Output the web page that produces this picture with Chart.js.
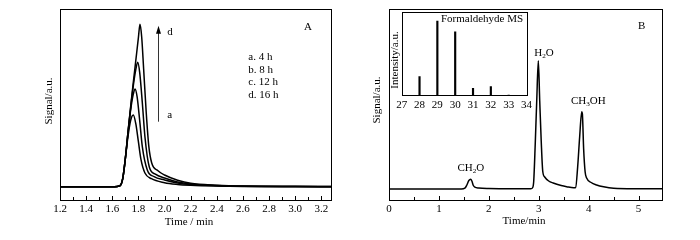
<!DOCTYPE html>
<html>
<head>
<meta charset="utf-8">
<script src="https://cdn.jsdelivr.net/npm/chart.js@4.4.1/dist/chart.umd.min.js"></script>
<style>
  html, body { margin: 0; padding: 0; background: #fff; }
  #wrap { position: relative; width: 700px; height: 240px; overflow: hidden; }
  .box { position: absolute; }
  canvas { display: block; }
</style>
</head>
<body>
<div id="wrap">
  <div class="box" style="left:0;top:0;width:350px;height:240px"><canvas id="cA" width="350" height="240"></canvas></div>
  <div class="box" style="left:350px;top:0;width:350px;height:240px"><canvas id="cB" width="350" height="240"></canvas></div>
  <div class="box" style="left:385px;top:0;width:150px;height:115px"><canvas id="cI" width="150" height="115"></canvas></div>
</div>
<script>
// ---------------- DATA ----------------
// Panel A: signal vs time (min) for 4 h, 8 h, 12 h, 16 h
const timeA_a = [1.20,1.40,1.60,1.64,1.66,1.68,1.70,1.72,1.74,1.761,1.78,1.80,1.82,1.85,1.90,2.00,2.10,2.20,2.40,2.60,3.00,3.28];
const sigA_a  = [0,0,0,0.3,1,8,28,50,66,71.7,63,45,27,13.7,8,4,2.3,1.5,0.7,0.3,0.1,0.05];
const timeA_b = [1.20,1.40,1.60,1.64,1.66,1.68,1.70,1.72,1.74,1.76,1.774,1.79,1.81,1.83,1.868,1.92,2.00,2.10,2.20,2.40,2.60,3.00,3.28];
const sigA_b  = [0,0,0,0.3,1,8,28,53,76,92,97.7,90,66,40,16.7,10,6.7,3.8,2.2,1.0,0.4,0.1,0.05];
const timeA_c = [1.20,1.40,1.60,1.64,1.66,1.68,1.70,1.72,1.74,1.76,1.78,1.795,1.81,1.83,1.85,1.883,1.93,2.00,2.10,2.20,2.40,2.60,3.00,3.28];
const sigA_c  = [0,0,0,0.3,1,8,28,54,78,100,117,124.4,114,84,50,20,12.5,8.7,4.8,2.8,1.2,0.5,0.15,0.1];
const timeA_d = [1.20,1.40,1.60,1.64,1.66,1.68,1.70,1.72,1.74,1.76,1.78,1.80,1.812,1.825,1.84,1.86,1.88,1.902,1.95,2.00,2.10,2.20,2.40,2.60,3.00,3.28];
const sigA_d  = [0,0,0,0.3,1,8,28,54,79,103,126,149,162.4,150,118,74,40,23.7,16,11.7,6.5,3.4,1.5,0.6,0.2,0.1];
const seriesA_labels = ["a. 4 h", "b. 8 h", "c. 12 h", "d. 16 h"];
const ticksA_major = [1.2,1.4,1.6,1.8,2.0,2.2,2.4,2.6,2.8,3.0,3.2];
const ticksA_minor = [1.3,1.5,1.7,1.9,2.1,2.3,2.5,2.7,2.9,3.1];

// Panel B: chromatogram
const timeB = [0,0.6,1.0,1.45,1.52,1.56,1.60,1.637,1.66,1.69,1.72,1.80,2.0,2.5,2.84,2.88,2.90,2.93,2.96,2.992,3.02,3.05,3.08,3.12,3.20,3.29,3.45,3.56,3.70,3.74,3.78,3.82,3.862,3.875,3.90,3.93,3.96,4.05,4.16,4.30,4.50,5.0,5.47];
const sigB  = [0,0,0,0,0.8,4,8.5,9.7,8,3.5,1.8,0.9,0.4,0.2,0.2,1.5,8,45,88,128.3,88,48,18,12,8,6,3.5,2.3,1.2,1.5,22,52,77.3,75,40,17,11,6.5,4,2.2,0.8,0.3,0.2];
const ticksB_major = [0,1,2,3,4,5];
const ticksB_minor = [0.5,1.5,2.5,3.5,4.5];

// Inset: Formaldehyde MS
const msMass = [28,29,30,31,32,33];
const msIntensity = [22.8,89.6,76.7,8.9,10.8,0.8];
const ticksI = [27,28,29,30,31,32,33,34];

// ---------------- HELPERS ----------------
const FONT = '"Liberation Serif", "Times New Roman", serif';
Chart.defaults.font.family = FONT;
Chart.defaults.color = '#000';
Chart.defaults.animation = false;

function pts(xs, ys) { return xs.map((x, i) => ({x: x, y: ys[i]})); }

// draw text with subscripts: parts = [[text, isSub], ...], centered at x
function drawParts(ctx, parts, x, y, size) {
  let w = 0;
  parts.forEach(p => { ctx.font = (p[1] ? size * 0.65 : size) + 'px ' + FONT; w += ctx.measureText(p[0]).width; });
  let cx = x - w / 2;
  ctx.textAlign = 'left';
  ctx.textBaseline = 'middle';
  parts.forEach(p => {
    ctx.font = (p[1] ? size * 0.65 : size) + 'px ' + FONT;
    ctx.fillText(p[0], cx, p[1] ? y + size * 0.3 : y);
    cx += ctx.measureText(p[0]).width;
  });
}

function framePlugin(minor, major, extra) {
  return {
    id: 'frame',
    afterDatasetsDraw(chart) {
      const ctx = chart.ctx, a = chart.chartArea;
      const xs = chart.scales.x;
      ctx.save();
      ctx.strokeStyle = '#000';
      ctx.lineWidth = 1;
      ctx.strokeRect(Math.round(a.left) + 0.5, Math.round(a.top) + 0.5, Math.round(a.right - a.left), Math.round(a.bottom - a.top));
      ctx.beginPath();
      (major || []).forEach(v => { const px = Math.round(xs.getPixelForValue(v)) + 0.5; ctx.moveTo(px, a.bottom); ctx.lineTo(px, a.bottom - 4); });
      (minor || []).forEach(v => { const px = Math.round(xs.getPixelForValue(v)) + 0.5; ctx.moveTo(px, a.bottom); ctx.lineTo(px, a.bottom - 3); });
      ctx.stroke();
      ctx.fillStyle = '#000';
      if (extra) extra(chart, ctx);
      ctx.restore();
    }
  };
}

function fixTicks(values, fmt) {
  return function (scale) { scale.ticks = values.map(v => ({value: v, label: fmt(v)})); };
}

// ---------------- PANEL A ----------------
const lineStyle = {borderColor: '#000', borderWidth: 1.5, pointRadius: 0, showLine: true, fill: false, cubicInterpolationMode: 'monotone'};
new Chart(document.getElementById('cA'), {
  type: 'scatter',
  data: {
    datasets: [
      Object.assign({label: seriesA_labels[0], data: pts(timeA_a, sigA_a)}, lineStyle),
      Object.assign({label: seriesA_labels[1], data: pts(timeA_b, sigA_b)}, lineStyle),
      Object.assign({label: seriesA_labels[2], data: pts(timeA_c, sigA_c)}, lineStyle),
      Object.assign({label: seriesA_labels[3], data: pts(timeA_d, sigA_d)}, lineStyle)
    ]
  },
  options: {
    responsive: false,
    devicePixelRatio: 1,
    layout: {padding: {left: 0, right: 19, top: 9, bottom: 0}},
    plugins: {legend: {display: false}, tooltip: {enabled: false}},
    scales: {
      x: {
        type: 'linear', min: 1.2, max: 3.274,
        afterBuildTicks: fixTicks(ticksA_major, v => v.toFixed(1)),
        afterFit: s => { s.height = 40; },
        grid: {display: false, drawTicks: false},
        border: {display: false},
        ticks: {autoSkip: false, maxRotation: 0, padding: 3, font: {size: 11, family: FONT}, color: '#000'}
      },
      y: {
        type: 'linear', min: -13.3, max: 177.7,
        afterFit: s => { s.width = 60; },
        grid: {display: false, drawTicks: false},
        border: {display: false},
        ticks: {display: false}
      }
    }
  },
  plugins: [framePlugin(ticksA_minor, ticksA_major, (chart, ctx) => {
    const xs = chart.scales.x, ys = chart.scales.y;
    const X = v => xs.getPixelForValue(v), Y = v => ys.getPixelForValue(v);
    ctx.font = '11px ' + FONT;
    ctx.textBaseline = 'middle';
    ctx.textAlign = 'center';
    ctx.fillText('A', X(3.097), Y(160));
    // arrow a -> d
    ctx.beginPath();
    ctx.lineWidth = 1;
    ctx.strokeStyle = '#333';
    const ax = Math.round(X(1.952)) + 0.5;
    ctx.moveTo(ax, Y(65)); ctx.lineTo(ax, Y(155));
    ctx.stroke();
    ctx.beginPath();
    ctx.moveTo(ax, Y(161)); ctx.lineTo(ax - 2.5, Y(153)); ctx.lineTo(ax + 2.5, Y(153)); ctx.closePath();
    ctx.fill();
    ctx.textAlign = 'left';
    ctx.fillText('d', X(2.021), Y(155));
    ctx.fillText('a', X(2.021), Y(71.7));
    const ly = [130, 117, 104.5, 92];
    seriesA_labels.forEach((t, i) => ctx.fillText(t, X(2.641), Y(ly[i])));
    // axis titles
    ctx.textAlign = 'center';
    ctx.fillText('Time / min', 189, 222);
    ctx.save();
    ctx.translate(49, 101);
    ctx.rotate(-Math.PI / 2);
    ctx.fillText('Signal/a.u.', 0, 0);
    ctx.restore();
  })]
});

// ---------------- PANEL B ----------------
new Chart(document.getElementById('cB'), {
  type: 'scatter',
  data: {
    datasets: [Object.assign({label: 'Signal', data: pts(timeB, sigB)}, lineStyle, {borderWidth: 1.5})]
  },
  options: {
    responsive: false,
    devicePixelRatio: 1,
    layout: {padding: {left: 0, right: 38, top: 9, bottom: 0}},
    plugins: {legend: {display: false}, tooltip: {enabled: false}},
    scales: {
      x: {
        type: 'linear', min: 0, max: 5.47,
        afterBuildTicks: fixTicks(ticksB_major, v => String(v)),
        afterFit: s => { s.height = 40; },
        grid: {display: false, drawTicks: false},
        border: {display: false},
        ticks: {autoSkip: false, maxRotation: 0, padding: 3, font: {size: 11, family: FONT}, color: '#000'}
      },
      y: {
        type: 'linear', min: -11, max: 180,
        afterFit: s => { s.width = 39; },
        grid: {display: false, drawTicks: false},
        border: {display: false},
        ticks: {display: false}
      }
    }
  },
  plugins: [framePlugin(ticksB_minor, ticksB_major, (chart, ctx) => {
    const xs = chart.scales.x, ys = chart.scales.y;
    const X = v => xs.getPixelForValue(v), Y = v => ys.getPixelForValue(v);
    ctx.font = '11px ' + FONT;
    ctx.textBaseline = 'middle';
    ctx.textAlign = 'center';
    ctx.fillText('B', X(5.064), Y(163));
    drawParts(ctx, [['H', false], ['2', true], ['O', false]], X(3.106), Y(136.3), 11);
    drawParts(ctx, [['CH', false], ['3', true], ['OH', false]], X(3.994), Y(88), 11);
    drawParts(ctx, [['CH', false], ['2', true], ['O', false]], X(1.64), Y(20.7), 11);
    ctx.font = '11px ' + FONT;
    ctx.textAlign = 'center';
    ctx.fillText('Time/min', 174, 221);
    ctx.save();
    ctx.translate(27, 100);
    ctx.rotate(-Math.PI / 2);
    ctx.fillText('Signal/a.u.', 0, 0);
    ctx.restore();
  })]
});

// ---------------- INSET ----------------
new Chart(document.getElementById('cI'), {
  type: 'bar',
  data: {
    datasets: [{label: 'Formaldehyde MS', data: pts(msMass, msIntensity), backgroundColor: '#000', borderWidth: 0, barThickness: 1.5}]
  },
  options: {
    responsive: false,
    devicePixelRatio: 1,
    layout: {padding: {left: 0, right: 6.7, top: 12.3, bottom: 0}},
    plugins: {legend: {display: false}, tooltip: {enabled: false}},
    scales: {
      x: {
        type: 'linear', min: 27, max: 34, offset: false,
        afterBuildTicks: fixTicks(ticksI, v => String(v)),
        afterFit: s => { s.height = 19.3; },
        grid: {display: false, drawTicks: false},
        border: {display: false},
        ticks: {autoSkip: false, maxRotation: 0, padding: 3, font: {size: 11, family: FONT}, color: '#000'}
      },
      y: {
        type: 'linear', min: 0, max: 100,
        afterFit: s => { s.width = 16.7; },
        grid: {display: false, drawTicks: false},
        border: {display: false},
        ticks: {display: false}
      }
    }
  },
  plugins: [{
    id: 'insetBg',
    beforeDatasetsDraw(chart) {
      const ctx = chart.ctx, a = chart.chartArea;
      ctx.save(); ctx.fillStyle = '#fff';
      ctx.fillRect(a.left, a.top, a.right - a.left, a.bottom - a.top);
      ctx.restore();
    }
  }, framePlugin(null, null, (chart, ctx) => {
    ctx.font = '11px ' + FONT;
    ctx.textBaseline = 'middle';
    ctx.textAlign = 'center';
    ctx.fillText('Formaldehyde MS', 97, 19.5);
    ctx.save();
    ctx.translate(10, 60);
    ctx.rotate(-Math.PI / 2);
    ctx.fillText('Intensity/a.u.', 0, 0);
    ctx.restore();
  })]
});
</script>
</body>
</html>
